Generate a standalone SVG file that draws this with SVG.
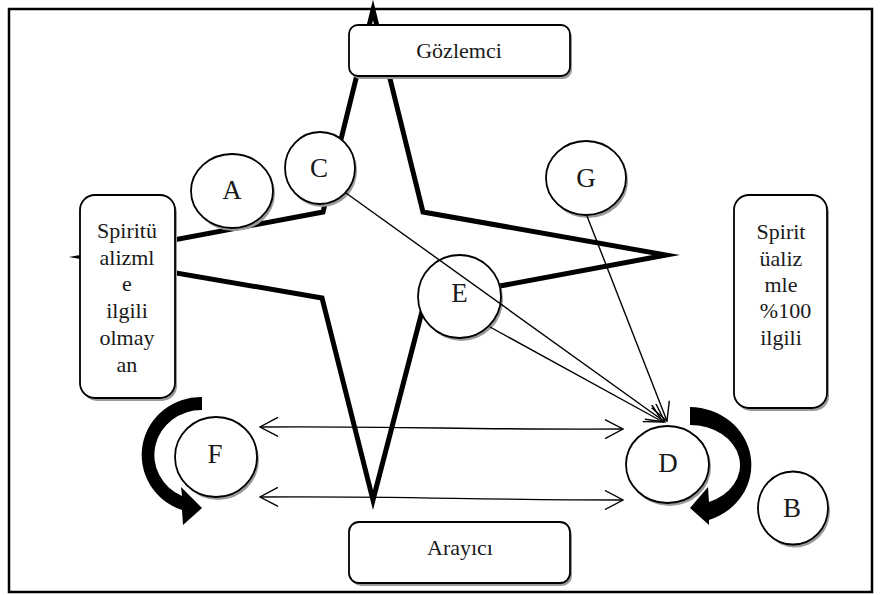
<svg xmlns="http://www.w3.org/2000/svg" width="882" height="595" viewBox="0 0 882 595">
<defs>
<style>
.frame{fill:none;stroke:#000;stroke-width:2.5}
.star{fill:none;stroke:#000;stroke-width:5;stroke-linejoin:miter;stroke-miterlimit:12}
.box{fill:#fff;stroke:#000;stroke-width:1.8}
.shadow{fill:#9a9a9a}
.node{fill:#fff;stroke:#000;stroke-width:1.8}
.lbl{font-family:"Liberation Serif","Times New Roman",serif;font-size:22px;fill:#1a1a1a;text-anchor:middle}
.big{font-family:"Liberation Serif","Times New Roman",serif;font-size:27px;fill:#1a1a1a;text-anchor:middle}
.conn{fill:none;stroke:#000;stroke-width:1.4}
.curv{fill:#000;stroke:none}
</style>
<marker id="open" viewBox="0 0 20 20" refX="19" refY="10" markerWidth="20" markerHeight="20" markerUnits="userSpaceOnUse" orient="auto-start-reverse">
<path d="M1,0.5 L19,10 L1,19.5" fill="none" stroke="#000" stroke-width="1.4"/>
</marker>
</defs>
<rect width="882" height="595" fill="#fff"/>
<rect class="frame" x="9" y="9" width="863" height="583"/>
<g id="star">
<polygon class="star" points="373,10 423,212 666,255 425,300 373,500 322,298 83,257 323,212"/>
</g>
<g id="box-gozlemci">
<rect class="shadow" x="351" y="28" width="221" height="51" rx="9"/>
<rect class="box" x="349" y="25" width="221" height="51" rx="9"/>
<text class="lbl" x="459" y="58">Gözlemci</text>
</g>
<g id="box-arayici">
<rect class="shadow" x="351" y="525" width="221" height="61" rx="10"/>
<rect class="box" x="349" y="522" width="221" height="61" rx="10"/>
<text class="lbl" x="460" y="555">Arayıcı</text>
</g>
<g id="box-left">
<rect class="shadow" x="82" y="198" width="95" height="203" rx="15"/>
<rect class="box" x="80" y="195" width="95" height="203" rx="15"/>
<text class="lbl" x="127" y="238">Spiritü</text>
<text class="lbl" x="127" y="265">alizml</text>
<text class="lbl" x="127" y="291">e</text>
<text class="lbl" x="127" y="318">ilgili</text>
<text class="lbl" x="127" y="345">olmay</text>
<text class="lbl" x="127" y="372">an</text>
</g>
<g id="box-right">
<rect class="shadow" x="736" y="198" width="93" height="213" rx="15"/>
<rect class="box" x="734" y="195" width="93" height="213" rx="15"/>
<text class="lbl" x="781" y="239">Spirit</text>
<text class="lbl" x="781" y="266">üaliz</text>
<text class="lbl" x="781" y="292">mle</text>
<text class="lbl" x="785.5" y="318">%100</text>
<text class="lbl" x="781" y="345">ilgili</text>
</g>
<g id="node-A">
<ellipse class="shadow" cx="234" cy="194" rx="41" ry="37"/>
<ellipse class="node" cx="232" cy="191" rx="41" ry="37"/>
<text class="big" x="232" y="199">A</text>
</g>
<g id="node-C">
<ellipse class="shadow" cx="322" cy="171" rx="35" ry="36"/>
<ellipse class="node" cx="320" cy="168" rx="35" ry="36"/>
<text class="big" x="319" y="177">C</text>
</g>
<g id="node-G">
<ellipse class="shadow" cx="588" cy="181" rx="40" ry="37"/>
<ellipse class="node" cx="586" cy="178" rx="40" ry="37"/>
<text class="big" x="586" y="187">G</text>
</g>
<g id="node-E">
<ellipse class="shadow" cx="461.5" cy="299.5" rx="41.5" ry="41.5"/>
<ellipse class="node" cx="459.5" cy="296.5" rx="41.5" ry="41.5"/>
<text class="big" x="459.5" y="302">E</text>
</g>
<g id="node-F">
<ellipse class="shadow" cx="218" cy="460" rx="41" ry="40"/>
<ellipse class="node" cx="216" cy="457" rx="41" ry="40"/>
<text class="big" x="215" y="463">F</text>
</g>
<g id="node-D">
<ellipse class="shadow" cx="669.5" cy="467.5" rx="41.5" ry="38.5"/>
<ellipse class="node" cx="667.5" cy="464.5" rx="41.5" ry="38.5"/>
<text class="big" x="668" y="472">D</text>
</g>
<g id="node-B">
<ellipse class="shadow" cx="795" cy="511" rx="35" ry="36.5"/>
<ellipse class="node" cx="793" cy="508" rx="35" ry="36.5"/>
<text class="big" x="792" y="517">B</text>
</g>
<g id="connectors">
<line class="conn" x1="346" y1="193" x2="665" y2="422" marker-end="url(#open)"/>
<line class="conn" x1="490" y1="327" x2="663" y2="422" marker-end="url(#open)"/>
<line class="conn" x1="587" y1="216" x2="667" y2="421" marker-end="url(#open)"/>
<path class="conn" d="M260,427 C400,426 480,430 623,429" marker-start="url(#open)" marker-end="url(#open)"/>
<path class="conn" d="M260,497 C400,496 480,500 623,500" marker-start="url(#open)" marker-end="url(#open)"/>
<path class="curv" d="M202,397 A59,58 0 0 0 182,510 L183,525 L202,508 L181,487 L182,496 A47,45 0 0 1 202,410 Z"/>
<path class="curv" d="M690,407 A62,58 0 0 1 709,520 L709,525 L690,508 L708,487 L709,502 A50,40 0 0 0 690,425 Z"/>
</g>
</svg>
